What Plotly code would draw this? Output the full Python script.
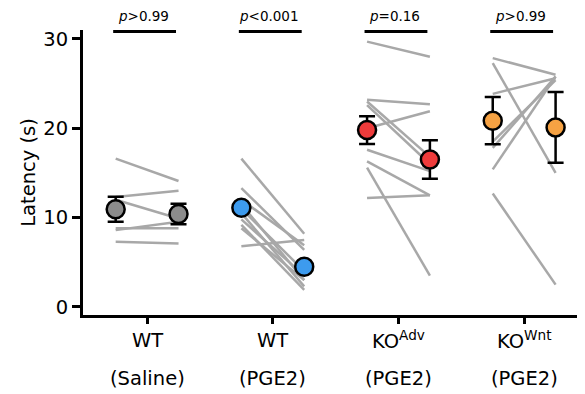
import plotly.graph_objects as go

# ---- data ----
top_labels = ["WT", "WT", "KO<sup>Adv</sup>", "KO<sup>Wnt</sup>"]
bottom_labels = ["(Saline)", "(PGE2)", "(PGE2)", "(PGE2)"]
p_labels = ["<i>p</i>>0.99", "<i>p</i>&lt;0.001", "<i>p</i>=0.16", "<i>p</i>>0.99"]

wt_saline_before = [16.6, 12.3, 12.0, 8.6, 8.8, 7.3]
wt_saline_after = [14.1, 13.0, 9.9, 9.55, 8.8, 7.1]

wt_pge2_before = [16.6, 13.3, 12.0, 11.5, 11.0, 10.5, 9.8, 9.2, 8.8, 6.8]
wt_pge2_after = [8.2, 6.4, 6.9, 3.0, 4.0, 2.3, 3.5, 1.9, 3.0, 7.5]

ko_adv_before = [29.7, 23.2, 23.0, 22.6, 20.0, 17.6, 16.3, 15.6, 12.2]
ko_adv_after = [28.0, 22.7, 16.8, 16.0, 21.9, 15.2, 12.5, 3.5, 12.5]

ko_wnt_before = [27.85, 27.3, 23.85, 18.5, 17.8, 15.4, 12.7]
ko_wnt_after = [26.0, 15.0, 25.6, 25.4, 25.8, 25.8, 2.5]

mean_before = [10.94, 11.1, 19.8, 20.85]
mean_after = [10.4, 4.5, 16.5, 20.1]
sem_before = [1.4, 0.5, 1.55, 2.65]
sem_after = [1.15, 0.4, 2.15, 3.95]

group_colors = ["#8c8c8c", "#3d9bee", "#ee3b3b", "#f6a243"]

befores = [wt_saline_before, wt_pge2_before, ko_adv_before, ko_wnt_before]
afters = [wt_saline_after, wt_pge2_after, ko_adv_after, ko_wnt_after]

OFF = 0.25
SIG_Y = 30.85
FONT = "DejaVu Sans, Liberation Sans, Arial, sans-serif"
LBL = 19.5

fig = go.Figure()

# paired individual lines
for g, (b, a) in enumerate(zip(befores, afters)):
    xs, ys = [], []
    for vb, va in zip(b, a):
        xs += [g - OFF, g + OFF, None]
        ys += [vb, va, None]
    fig.add_trace(go.Scatter(x=xs, y=ys, mode="lines",
                             line=dict(color="#a8a8a8", width=2.5),
                             hoverinfo="skip", showlegend=False))

# means with SEM
for g in range(4):
    fig.add_trace(go.Scatter(
        x=[g - OFF, g + OFF], y=[mean_before[g], mean_after[g]],
        mode="markers",
        marker=dict(size=18, color=group_colors[g],
                    line=dict(color="black", width=2.5)),
        error_y=dict(type="data", array=[sem_before[g], sem_after[g]],
                     color="black", thickness=2.5, width=8),
        showlegend=False))

# significance bars
sx, sy = [], []
for g in range(4):
    sx += [g - OFF - 0.02, g + OFF - 0.02, None]
    sy += [SIG_Y, SIG_Y, None]
fig.add_trace(go.Scatter(x=sx, y=sy, mode="lines",
                         line=dict(color="black", width=3.2),
                         hoverinfo="skip", showlegend=False))

annotations = []
for g in range(4):
    annotations.append(dict(x=g - 0.03, y=1.05, xref="x", yref="paper",
                            text=p_labels[g], showarrow=False,
                            font=dict(size=13.5, color="black", family=FONT),
                            yanchor="middle"))
    annotations.append(dict(x=g, y=-0.088, xref="x", yref="paper",
                            text=top_labels[g], showarrow=False,
                            font=dict(size=LBL, color="black", family=FONT),
                            yanchor="middle"))
    annotations.append(dict(x=g, y=-0.222, xref="x", yref="paper",
                            text=bottom_labels[g], showarrow=False,
                            font=dict(size=LBL, color="black", family=FONT),
                            yanchor="middle"))

# the page body adds an 8px margin; size the figure to fit the window
fig.update_layout(
    width=577, height=386,
    margin=dict(l=75, r=0, t=22, b=79),
    paper_bgcolor="white", plot_bgcolor="white",
    font=dict(family=FONT, color="black"),
    annotations=annotations,
    xaxis=dict(range=[-0.51, 3.484], tickvals=[0, 1, 2, 3],
               showticklabels=False, ticks="outside", ticklen=6,
               tickwidth=2.5, tickcolor="black", showline=True,
               linecolor="black", linewidth=2.8, showgrid=False,
               zeroline=False, automargin=False),
    yaxis=dict(range=[-0.9, 31.0], tickvals=[0, 10, 20, 30],
               ticks="outside", ticklen=8, tickwidth=2.5,
               tickcolor="black", showline=True, linecolor="black",
               linewidth=2.8, showgrid=False, zeroline=False,
               automargin=False,
               tickfont=dict(size=LBL, family=FONT),
               title=dict(text="Latency (s)", font=dict(size=LBL, family=FONT),
                          standoff=3)),
)

fig.write_html("out.html")
